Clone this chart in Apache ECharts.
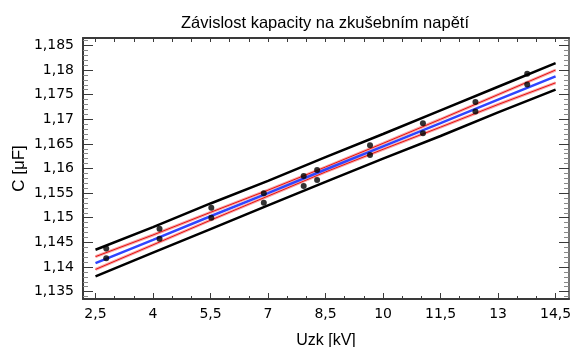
<!DOCTYPE html>
<html>
<head>
<meta charset="utf-8">
<script src="https://cdn.jsdelivr.net/npm/echarts@6/dist/echarts.min.js"></script>
<style>
html,body{margin:0;padding:0;background:#fff;}
#chart{width:573px;height:347px;}
</style>
</head>
<body>
<div id="chart"></div>
<script>
// ---- data ----
var chartTitle = 'Závislost kapacity na zkušebním napětí';
var xName = 'Uzk [kV]';
var yName = 'C [\u03bcF]';

// measured points (two measurements per voltage)
var voltage = [2.78, 2.78, 4.17, 4.17, 5.52, 5.52, 6.89, 6.89, 7.93, 7.93,
               8.28, 8.28, 9.66, 9.66, 11.04, 11.04, 12.41, 12.41, 13.76, 13.76];
var capacity = [1.14373, 1.14176, 1.14779, 1.14576, 1.15205, 1.15002, 1.15496, 1.15307, 1.15847, 1.15644,
                1.15969, 1.15766, 1.16470, 1.16273, 1.16917, 1.16714, 1.17349, 1.17160, 1.17925, 1.17708];

// regression line and bands, read at these voltages
var bandX      = [2.5,    4,      5.5,    7,      8.5,    10,     11.5,   13,     14.5];
var fitLine    = [1.1408, 1.1455, 1.1503, 1.1550, 1.1598, 1.1645, 1.1692, 1.1740, 1.1787];
var confUpper  = [1.1421, 1.1465, 1.1511, 1.1556, 1.1603, 1.1651, 1.1700, 1.1750, 1.1800];
var confLower  = [1.1395, 1.1445, 1.1495, 1.1544, 1.1593, 1.1639, 1.1684, 1.1730, 1.1774];
var predUpper  = [1.1435, 1.1481, 1.1529, 1.1575, 1.1623, 1.1670, 1.1718, 1.1766, 1.1814];
var predLower  = [1.1381, 1.1429, 1.1477, 1.1525, 1.1573, 1.1620, 1.1666, 1.1714, 1.1760];

// tick labels
var xTickLabels = [2.5, 4, 5.5, 7, 8.5, 10, 11.5, 13, 14.5];
var xMinorTicks = [3, 3.5, 4.5, 5, 6, 6.5, 7.5, 8, 9, 9.5, 10.5, 11, 12, 12.5, 13.5, 14];
var xTopTicks   = [2.5, 3, 3.5, 4, 4.5, 5, 5.5, 6, 6.5, 7, 7.5, 8, 8.5, 9, 9.5, 10, 10.5, 11, 11.5, 12, 12.5, 13, 13.5, 14, 14.5];
var yTickLabels = [1.135, 1.14, 1.145, 1.15, 1.155, 1.16, 1.165, 1.17, 1.175, 1.18, 1.185];
var yMinorTicks = [1.134, 1.136, 1.137, 1.138, 1.139, 1.141, 1.142, 1.143, 1.144, 1.146, 1.147, 1.148, 1.149,
                   1.151, 1.152, 1.153, 1.154, 1.156, 1.157, 1.158, 1.159, 1.161, 1.162, 1.163, 1.164,
                   1.166, 1.167, 1.168, 1.169, 1.171, 1.172, 1.173, 1.174, 1.176, 1.177, 1.178, 1.179,
                   1.181, 1.182, 1.183, 1.184, 1.186];

// ---- build ----
function pairs(xs, ys){ return xs.map(function(x,i){ return [x, ys[i]]; }); }
function fmt(v){ return String(+(+v).toFixed(4)).replace('.', ','); }

var XMIN = 2.174, XMAX = 14.85, YMIN = 1.1335, YMAX = 1.1865;
var FONT = 'Liberation Sans, Arial, sans-serif';
var TICKFONT = 'DejaVu Sans, Verdana, sans-serif';
var axisCol = '#3a3a3a';

function xAx(opts){
  return Object.assign({
    type:'value', min:XMIN, max:XMAX, position:'bottom',
    splitLine:{show:false},
    axisLine:{show:false},
    axisLabel:{show:false},
    axisTick:{show:false}
  }, opts);
}
function yAx(opts){
  return Object.assign({
    type:'value', min:YMIN, max:YMAX, position:'left',
    splitLine:{show:false},
    axisLine:{show:false},
    axisLabel:{show:false},
    axisTick:{show:false}
  }, opts);
}

var chart = echarts.init(document.getElementById('chart'), null, {renderer:'canvas'});
chart.setOption({
  animation:false,
  backgroundColor:'#fff',
  title:{
    text: chartTitle, left:176, top:10,
    textStyle:{fontFamily:FONT, fontSize:16.5, fontWeight:'normal', color:'#000'}
  },
  grid:{left:83, right:4, top:38, bottom:48, containLabel:false, outerBoundsMode:'none'},
  xAxis:[
    xAx({
      position:'bottom',
      name:xName, nameLocation:'middle', nameGap:34, nameMoveOverlap:false,
      nameTextStyle:{fontFamily:FONT, fontSize:16, color:'#000'},
      axisLine:{show:true, onZero:false, lineStyle:{color:axisCol, width:2}},
      axisTick:{show:true, inside:true, length:6, customValues:xTickLabels, lineStyle:{color:axisCol, width:1}},
      axisLabel:{show:true, customValues:xTickLabels, formatter:fmt, margin:8,
                 fontFamily:TICKFONT, fontSize:14, color:'#000'}
    }),
    xAx({
      position:'bottom',
      axisTick:{show:true, inside:true, length:3, customValues:xMinorTicks, lineStyle:{color:axisCol, width:1}}
    }),
    xAx({
      position:'top',
      axisLine:{show:true, onZero:false, lineStyle:{color:axisCol, width:2}},
      axisTick:{show:true, inside:true, length:4, customValues:xTopTicks, lineStyle:{color:axisCol, width:1}}
    })
  ],
  yAxis:[
    yAx({
      position:'left',
      name:yName, nameLocation:'middle', nameGap:55, nameRotate:90, nameMoveOverlap:false,
      nameTextStyle:{fontFamily:FONT, fontSize:17, color:'#000'},
      axisLine:{show:true, onZero:false, lineStyle:{color:axisCol, width:2}},
      axisTick:{show:true, inside:true, length:10, customValues:yTickLabels, lineStyle:{color:axisCol, width:1}},
      axisLabel:{show:true, customValues:yTickLabels, formatter:fmt, margin:9,
                 fontFamily:TICKFONT, fontSize:14, color:'#000'}
    }),
    yAx({
      position:'left',
      axisTick:{show:true, inside:true, length:5, customValues:yMinorTicks, lineStyle:{color:'#888', width:1}}
    }),
    yAx({
      position:'right',
      axisLine:{show:true, onZero:false, lineStyle:{color:'#777', width:2}},
      axisTick:{show:true, inside:true, length:10, customValues:yTickLabels, lineStyle:{color:axisCol, width:1}}
    }),
    yAx({
      position:'right',
      axisTick:{show:true, inside:true, length:5, customValues:yMinorTicks, lineStyle:{color:'#888', width:1}}
    })
  ],
  series:[
    {type:'line', name:'pred upper', data:pairs(bandX, predUpper), showSymbol:false, symbol:'none',
     lineStyle:{color:'#000', width:2.5}, z:2},
    {type:'line', name:'pred lower', data:pairs(bandX, predLower), showSymbol:false, symbol:'none',
     lineStyle:{color:'#000', width:2.5}, z:2},
    {type:'line', name:'conf upper halo', data:pairs(bandX, confUpper), symbol:'none',
     lineStyle:{color:'#f7a8a8', width:3}, z:3},
    {type:'line', name:'conf lower halo', data:pairs(bandX, confLower), symbol:'none',
     lineStyle:{color:'#f7a8a8', width:3}, z:3},
    {type:'line', name:'conf upper', data:pairs(bandX, confUpper), symbol:'none',
     lineStyle:{color:'#e81010', width:1}, z:4},
    {type:'line', name:'conf lower', data:pairs(bandX, confLower), symbol:'none',
     lineStyle:{color:'#e81010', width:1}, z:4},
    {type:'line', name:'fit', data:pairs(bandX, fitLine), symbol:'none',
     lineStyle:{color:'#2f45ff', width:2.5}, z:5},
    {type:'scatter', name:'measured', data:pairs(voltage, capacity), symbol:'circle', symbolSize:6,
     itemStyle:{color:'#000'}, z:6}
  ]
});
</script>
</body>
</html>
